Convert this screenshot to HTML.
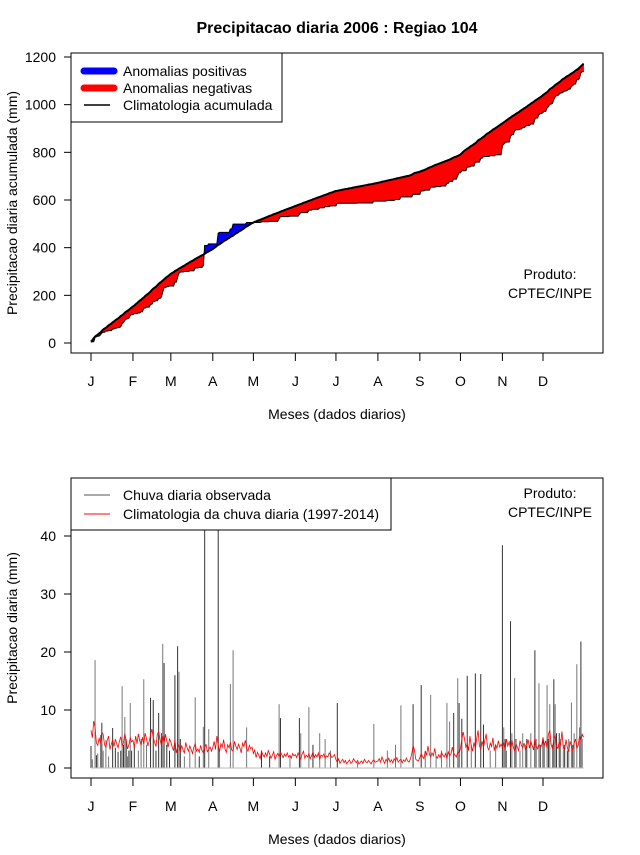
<!DOCTYPE html>
<html><head><meta charset="utf-8"><style>
body{margin:0;background:#fff}
svg text{font-family:"Liberation Sans",sans-serif;fill:#000}
</style></head><body>
<svg id="chart" width="640" height="850" xmlns="http://www.w3.org/2000/svg">
<rect width="640" height="850" fill="#fff"/>
<text x="337" y="33" font-size="16" font-weight="bold" text-anchor="middle">Precipitacao diaria 2006 : Regiao 104</text>
<g id="top"></g>
<g id="bot"></g>
</svg>
<script>
const months = ["J","F","M","A","M","J","J","A","S","O","N","D"];
const monthStartDays = [1,32,60,91,121,152,182,213,244,274,305,335];
const topTicks = [0,200,400,600,800,1000,1200];
const botTicks = [0,10,20,30,40];
const climJan = [6.5,5.2,8.1,7.0,4.3,3.9,5.1,4.4,6.2,5.8,4.0,3.6,4.8,5.5,3.2,4.1,4.9,3.7,5.0,4.2,3.5,4.6,5.4,3.8,4.4,5.9,4.7,3.3,4.0,5.2,4.5];
const climFeb = [4.8,3.6,5.5,4.2,5.9,4.7,3.9,5.3,4.1,6.0,5.1,3.8,4.6,5.7,6.7,5.2,4.4,3.7,5.8,6.3,4.9,3.9,5.5,4.3,5.8,4.7,3.6,5.0];
const climMar = [4.5,3.6,3.0,4.9,2.6,3.5,4.1,2.8,3.9,3.1,2.6,4.4,3.5,2.9,3.8,3.2,2.5,3.6,4.2,2.9,3.3,2.7,3.9,3.0,2.6,3.4,4.1,2.8,3.2,3.6,2.9];
const climApr = [3.5,4.6,3.2,5.5,3.9,2.8,4.2,3.6,4.9,3.3,2.7,4.0,3.5,4.4,3.1,2.9,4.6,3.8,3.2,4.1,3.5,2.6,4.3,3.7,4.8,3.4,2.9,3.9,3.3,3.6];
const climMay = [2.5,3.1,1.8,2.7,2.2,1.6,2.9,2.3,1.9,2.6,2.0,3.0,2.4,1.7,2.2,2.8,1.5,2.1,2.5,1.9,2.7,2.3,1.8,2.4,2.0,2.6,1.9,2.2,1.7,2.5,2.1];
const climJun = [2.3,1.8,2.6,2.0,1.5,2.4,2.9,1.7,2.2,1.9,2.5,1.6,2.1,2.8,1.8,2.3,1.9,2.6,1.5,2.2,2.0,2.4,1.7,2.1,1.9,2.6,2.2,1.8,2.0,2.3];
const climJul = [1.4,1.0,1.6,0.8,1.2,1.5,0.9,1.3,0.7,1.1,1.4,0.8,1.0,1.6,1.2,0.9,1.3,0.7,1.0,1.2,0.8,1.5,1.1,0.9,1.3,1.0,0.7,1.2,1.4,1.0,1.1];
const climAug = [1.2,1.6,1.0,1.9,1.3,0.8,1.5,1.1,1.7,1.0,1.4,0.9,1.6,1.2,1.8,1.0,1.3,1.5,0.9,1.4,1.1,1.7,1.2,1.0,1.6,2.4,3.9,3.1,1.5,1.3,1.2];
const climSep = [1.8,2.5,2.0,1.6,2.9,2.2,3.8,2.4,1.9,2.6,2.1,3.4,2.0,1.7,2.3,1.8,2.7,2.2,1.9,2.5,1.6,2.8,2.1,2.4,3.6,2.6,2.2,1.9,2.8,2.5];
const climOct = [3.4,4.9,6.2,5.0,3.6,4.2,3.0,5.5,3.8,2.9,4.4,3.3,5.1,6.5,3.9,3.2,4.6,3.5,4.8,5.9,3.6,3.1,4.3,3.7,5.2,3.0,4.0,3.4,4.7,3.6,4.1];
const climNov = [3.6,4.4,3.1,5.0,3.8,4.5,3.3,4.8,3.7,2.9,4.2,3.6,3.0,4.7,3.9,3.5,4.3,3.2,3.8,4.9,3.4,4.6,3.9,3.1,5.2,3.7,3.3,4.1,3.6,3.8];
const climDec = [5.3,3.9,4.7,3.4,5.8,6.5,4.1,3.3,5.0,5.6,3.7,3.4,4.5,4.0,6.3,3.6,3.2,4.9,3.5,2.8,4.6,3.7,3.1,4.3,5.0,3.4,3.9,5.5,4.7,5.8,5.3];
// observed rainy days: [day-of-year, mm]
const obsDays = [[1,3.8],[2,1.5],[4,18.6],[5,2.2],[6,2.5],[8,5.7],[9,7.8],[10,3],[12,4.8],[14,2],[17,6.9],[19,3.5],[21,2.8],[23,3],[24,14.1],[25,4],[26,8.8],[27,5],[28,2],[29,3],[30,11.2],[31,3],
[33,4],[36,3],[38,5],[40,15.3],[42,4],[45,12.1],[47,11.7],[49,3],[51,9.5],[53,6],[54,21.4],[55,18.1],[57,4],[59,3],
[63,16],[65,21],[66,16.6],[67,5],[70,2],[74,3],[78,12.2],[81,2],[84,7.1],[85,85],[88,6.7],
[95,45],[96,3],[104,14.5],[106,20.3],[116,7],
[127,3],[133,2],[140,11],[141,8.6],[148,2],[155,8.6],[156,6],[162,10.5],[165,4],[170,6],[174,5],[178,3],
[183,11.2],[198,1],[210,7.6],[220,3],[226,4],[230,10.8],[239,11],
[245,14.3],[248,3],[252,12.6],[256,2],[260,3],[264,11.2],[266,8],[269,9.5],[272,15.5],[273,11.2],[275,8.5],[279,15.9],[282,4],[285,16.3],[289,16.2],[291,7.5],[296,3],[300,4],
[305,38.4],[306,7],[307,5],[308,3],[311,25.3],[312,6],[314,15.5],[315,5],[318,3],[320,6],[322,4],[323,5],[326,6],[329,20.3],[330,5],[332,14.6],[333,4],[335,5],
[336,4],[338,14.3],[339,5],[340,11],[342,4],[343,15.3],[344,11],[345,6],[347,6],[348,5],[350,4],[351,4],[353,3],[354,5],[356,11.3],[357,4],[358,6],[360,17.9],[362,7],[363,21.8],[364,5]];

const clim = [].concat(climJan,climFeb,climMar,climApr,climMay,climJun,climJul,climAug,climSep,climOct,climNov,climDec);
const N = clim.length;
const obs = new Array(N).fill(0);
obsDays.forEach(d=>{obs[d[0]-1]=d[1];});

const NS="http://www.w3.org/2000/svg";
function mk(parent,tag,attrs,txt){const e=document.createElementNS(NS,tag);for(const k in attrs)e.setAttribute(k,attrs[k]);if(txt!==undefined)e.textContent=txt;parent.appendChild(e);return e;}
const x = d => 91 + (d-1)*(543-91)/334;
const yT = v => 343 - v*(286/1200);
const yB = v => 768 - v*5.8;

function frame(g,top,bottom,ticks,yf,ytitle,ttl){
  let r=mk(g,'rect',{x:71,y:top,width:532,height:bottom-top,fill:'none',stroke:'#000','stroke-width':1});
  
  ticks.forEach(t=>{
    let l=mk(g,'line',{x1:64,x2:71,y1:yf(t),y2:yf(t),stroke:'#000'});
    
    let tx=mk(g,'text',{x:56,y:yf(t)+5,'font-size':14,'text-anchor':'end'},String(t));
    
  });
  months.forEach((m,i)=>{
    const px=x(monthStartDays[i]);
    let l=mk(g,'line',{x1:px,x2:px,y1:bottom,y2:bottom+8,stroke:'#000'});
    
    let tx=mk(g,'text',{x:px,y:bottom+33,'font-size':14,'text-anchor':'middle'},m);
    
  });
  let xt=mk(g,'text',{x:337,y:bottom+66,'font-size':14,'text-anchor':'middle'},'Meses (dados diarios)');
  
  const cy=(top+bottom)/2;
  let yt=mk(g,'text',{x:17,y:cy,'font-size':14,'text-anchor':'middle',transform:`rotate(-90 17 ${cy})`},ytitle);
  
  let p1=mk(g,'text',{x:550,y:ttl,'font-size':14,'text-anchor':'middle'},'Produto:');
  
  let p2=mk(g,'text',{x:550,y:ttl+19,'font-size':14,'text-anchor':'middle'},'CPTEC/INPE');
  
}

// TOP
const gt=document.getElementById('top');
const cc=[],co=[];let a=0,b=0;
for(let i=0;i<N;i++){a+=clim[i];b+=obs[i];cc.push(a);co.push(b);}
for(let i=0;i<N-1;i++){
  const d=(co[i]+co[i+1])-(cc[i]+cc[i+1]);
  const p=mk(gt,'polygon',{points:`${x(i+1)},${yT(cc[i])} ${x(i+2)},${yT(cc[i+1])} ${x(i+2)},${yT(co[i+1])} ${x(i+1)},${yT(co[i])}`,fill:d>0?'#0000ff':'#ff0000',stroke:d>0?'#0000ff':'#ff0000','stroke-width':0.6});
  
  
}
let po=mk(gt,'polyline',{points:co.map((v,i)=>`${x(i+1)},${yT(v)}`).join(' '),fill:'none',stroke:'#000','stroke-width':1});

let pc=mk(gt,'polyline',{points:cc.map((v,i)=>`${x(i+1)},${yT(v)}`).join(' '),fill:'none',stroke:'#000','stroke-width':2});

frame(gt,53,353,topTicks,yT,'Precipitacao diaria acumulada (mm)',279);
let lg=mk(gt,'g',{});
mk(lg,'rect',{x:71,y:53,width:211,height:69,fill:'#fff',stroke:'#000'});
mk(lg,'line',{x1:84,x2:114,y1:71,y2:71,stroke:'#0000ff','stroke-width':7,'stroke-linecap':'round'});
mk(lg,'line',{x1:84,x2:114,y1:88,y2:88,stroke:'#ff0000','stroke-width':7,'stroke-linecap':'round'});
mk(lg,'line',{x1:84,x2:110,y1:105,y2:105,stroke:'#000','stroke-width':1.5});
mk(lg,'text',{x:123,y:76,'font-size':14},'Anomalias positivas');
mk(lg,'text',{x:123,y:93,'font-size':14},'Anomalias negativas');
mk(lg,'text',{x:123,y:110,'font-size':14},'Climatologia acumulada');

// BOTTOM
const gb=document.getElementById('bot');
const clip=mk(gb,'clipPath',{id:'cb'});mk(clip,'rect',{x:71,y:478,width:532,height:300});
const bars=mk(gb,'g',{'clip-path':'url(#cb)'});
for(let i=0;i<N;i++){
  if(obs[i]<=0)continue;
  const l=mk(bars,'line',{x1:x(i+1),x2:x(i+1),y1:yB(0),y2:yB(obs[i]),stroke:i%2?'#777':'#333','stroke-width':1});
  
  
}
let bl=mk(bars,'line',{x1:x(1),x2:x(N),y1:yB(0),y2:yB(0),stroke:'#bbb','stroke-width':1});

let cl=mk(bars,'polyline',{points:clim.map((v,i)=>`${x(i+1)},${yB(v)}`).join(' '),fill:'none',stroke:'#ff0000','stroke-width':0.8});

frame(gb,478,778,botTicks,yB,'Precipitacao diaria (mm)',498);
let lg2=mk(gb,'g',{});
mk(lg2,'rect',{x:71,y:478,width:320,height:52,fill:'#fff',stroke:'#000'});
mk(lg2,'line',{x1:84,x2:110,y1:495,y2:495,stroke:'#555','stroke-width':1});
mk(lg2,'line',{x1:84,x2:110,y1:514,y2:514,stroke:'#ff0000','stroke-width':1});
mk(lg2,'text',{x:123,y:500,'font-size':14},'Chuva diaria observada');
mk(lg2,'text',{x:123,y:519,'font-size':14},'Climatologia da chuva diaria (1997-2014)');
</script>
</body></html>
